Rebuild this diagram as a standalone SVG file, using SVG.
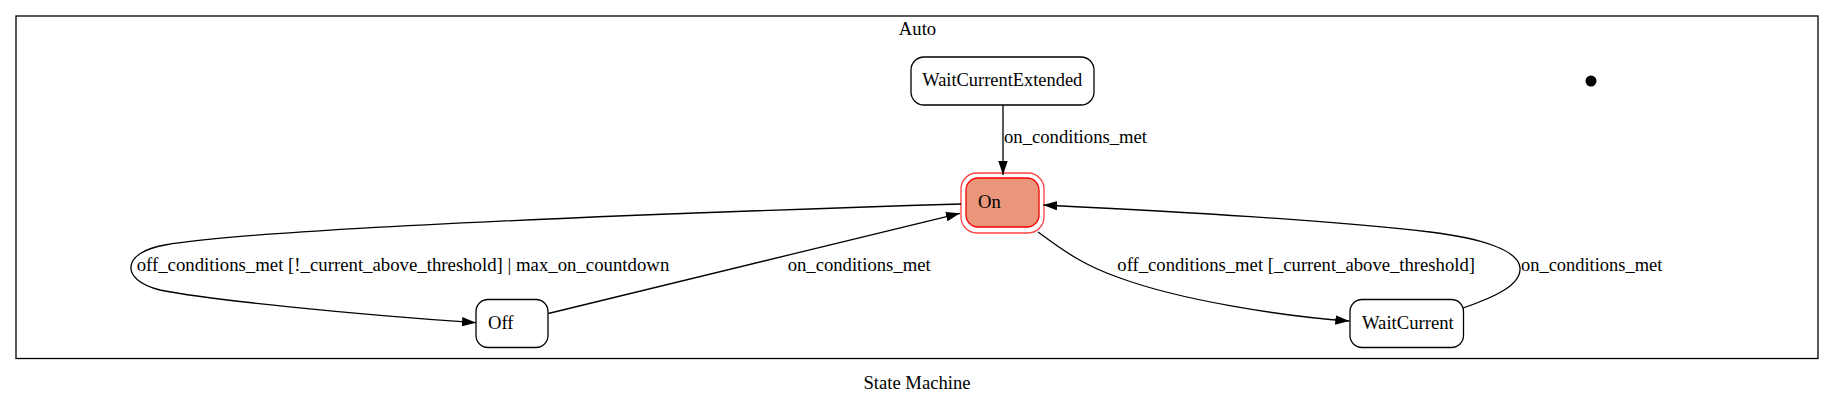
<svg xmlns="http://www.w3.org/2000/svg" width="1835" height="405" viewBox="0 0 1835 405">
<style>
text{font-family:"Liberation Serif","Times New Roman",serif;font-size:18.67px;fill:#000}
.node{fill:#fff;stroke:#000;stroke-width:1.3}
.edge{fill:none;stroke:#000;stroke-width:1.3}
</style>
<defs>
<marker id="ah" markerUnits="userSpaceOnUse" markerWidth="15" markerHeight="11" refX="14" refY="4.7" orient="auto">
<path d="M0,0 L14,4.7 L0,9.4 z" fill="#000"/>
</marker>
</defs>
<rect width="1835" height="405" fill="#fff"/>
<g id="cluster_auto">
<rect x="16" y="16" width="1802" height="342.5" fill="none" stroke="#000" stroke-width="1.3"/>
<text x="917.5" y="35" text-anchor="middle">Auto</text>
</g>
<g id="initial">
<circle cx="1591" cy="81" r="5.5" fill="#000"/>
</g>
<g id="WaitCurrentExtended">
<rect class="node" x="911" y="57" width="183" height="48" rx="13"/>
<text x="922.3" y="86" textLength="160" lengthAdjust="spacingAndGlyphs">WaitCurrentExtended</text>
</g>
<g id="On">
<rect x="961" y="173" width="83" height="60" rx="16" fill="none" stroke="#ff4040" stroke-width="1.3"/>
<rect x="966" y="178" width="73" height="49" rx="12" fill="#e9967a" stroke="#ff0000" stroke-width="1.3"/>
<text x="978" y="208">On</text>
</g>
<g id="Off">
<rect class="node" x="476" y="299.5" width="72" height="48" rx="12"/>
<text x="488" y="329.3">Off</text>
</g>
<g id="WaitCurrent">
<rect class="node" x="1350" y="299.5" width="113.5" height="48" rx="12"/>
<text x="1362" y="329.3">WaitCurrent</text>
</g>
<g id="connectors">
<path class="edge" marker-end="url(#ah)" d="M1003,105 L1003,175"/>
<text x="1004" y="143.3">on_conditions_met</text>
<path class="edge" marker-end="url(#ah)" d="M961,204 C700,212 260,228 165,245 C122,252 119,280 160,290 C210,300 350,314 476,322.7"/>
<text x="136.7" y="271" textLength="532.6" lengthAdjust="spacingAndGlyphs">off_conditions_met [!_current_above_threshold] | max_on_countdown</text>
<path class="edge" marker-end="url(#ah)" d="M548.3,313.5 L960,213.3"/>
<text x="787.7" y="271" textLength="143" lengthAdjust="spacingAndGlyphs">on_conditions_met</text>
<path class="edge" marker-end="url(#ah)" d="M1038,232 C1065,252 1085,266 1120,278 C1180,300 1280,316 1349.3,321"/>
<text x="1117.3" y="271" textLength="357.7" lengthAdjust="spacingAndGlyphs">off_conditions_met [_current_above_threshold]</text>
<path class="edge" marker-end="url(#ah)" d="M1463,308 C1495,297 1521,285 1520,268 C1519,250 1480,238 1430,232 C1330,220 1180,212 1043.3,205"/>
<text x="1521" y="271" textLength="141.3" lengthAdjust="spacingAndGlyphs">on_conditions_met</text>
</g>
<text x="917" y="389.3" text-anchor="middle">State Machine</text>
</svg>
